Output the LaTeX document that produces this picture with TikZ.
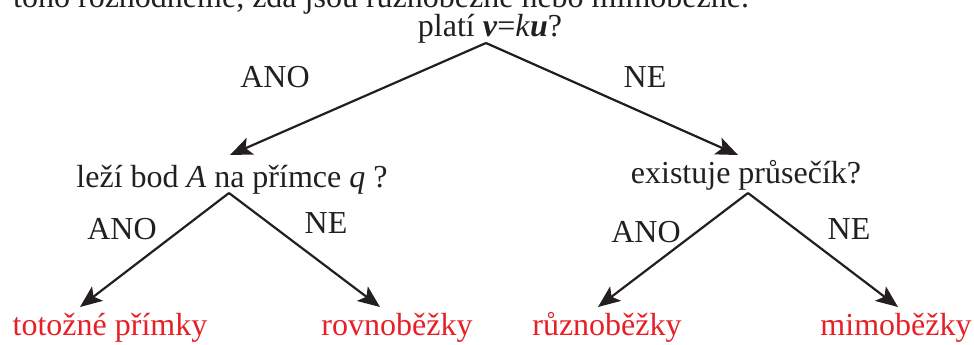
\documentclass[tikz,border=0pt]{standalone}
\usepackage{fontspec}
\setmainfont{Liberation Serif}
\usetikzlibrary{arrows.meta}
\definecolor{inkblack}{RGB}{35,31,32}
\definecolor{answred}{RGB}{230,32,38}
\tikzset{
    question/.style={anchor=base, inner sep=0pt, text=inkblack, font=\fontsize{32}{38}\selectfont},
    answer/.style={question, text=answred},
    branch/.style={line width=2.2pt, draw=inkblack, -{Stealth[length=22pt,width=18pt,inset=5pt]}},
}
\newcommand{\vecbf}[1]{\textbf{\textit{#1}}}

\begin{document}
\begin{tikzpicture}[x=1pt,y=-1pt]
        \useasboundingbox (0,0) rectangle (974,345);
        \clip (0,0) rectangle (974,345);
        % questions
        \node[question, anchor=base west] (intro) at (13,8) {toho rozhodneme, zda jsou různoběžné nebo mimoběžné.};
        \node[question] (parallel) at (490,37) {platí \vecbf{v}=\textit{k}\vecbf{u}?};
        \node[question] (liesA) at (232,187) {leží bod \textit{A} na přímce \textit{q} ?};
        \node[question] (meets) at (746,183) {existuje průsečík?};
        % branch points
        \coordinate (p0) at (486,43);
        \coordinate (p1) at (229,193);
        \coordinate (p2) at (748,193);
        \coordinate (t1) at (230,155);
        \coordinate (t2) at (738,155);
        \coordinate (t11) at (80,307);
        \coordinate (t12) at (380,307);
        \coordinate (t21) at (598,307);
        \coordinate (t22) at (898,307);
        % answers
        \node[question] (yes0) at (275,88) {ANO};
        \node[question] (no0) at (645,87) {NE};
        \node[question] (yes1) at (122,239) {ANO};
        \node[question] (no1) at (326,233) {NE};
        \node[question] (yes2) at (646,242) {ANO};
        \node[question] (no2) at (849,239) {NE};
        \node[answer] (same) at (110,335) {totožné přímky};
        \node[answer] (parl) at (397,335) {rovnoběžky};
        \node[answer] (cross) at (607,335) {různoběžky};
        \node[answer] (skew) at (896,335) {mimoběžky};
        \draw[branch] (p0) -- (t1);
        \draw[branch] (p0) -- (t2);
        \draw[branch] (p1) -- (t11);
        \draw[branch] (p1) -- (t12);
        \draw[branch] (p2) -- (t21);
        \draw[branch] (p2) -- (t22);
\end{tikzpicture}
\end{document}
